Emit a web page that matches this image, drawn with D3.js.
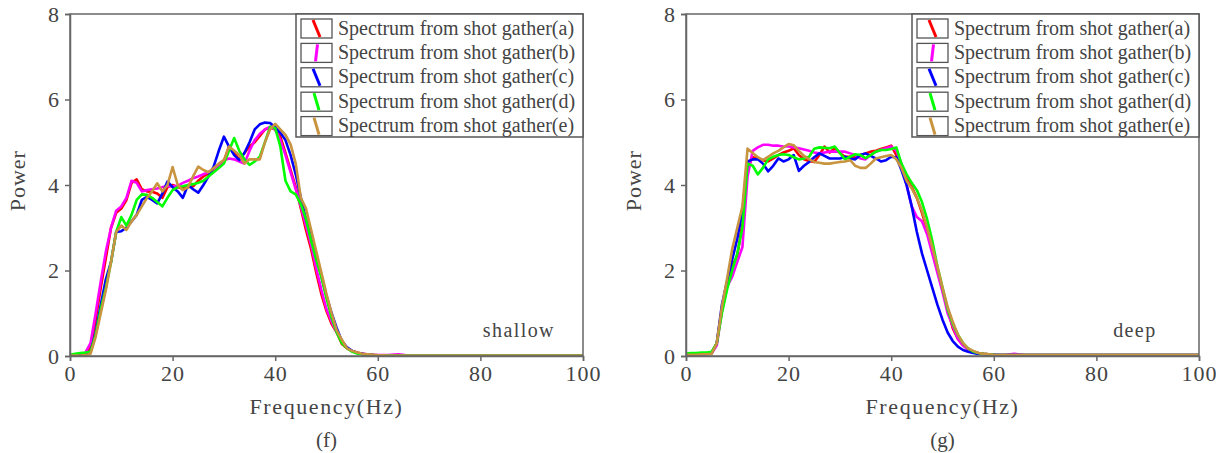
<!DOCTYPE html>
<html>
<head>
<meta charset="utf-8">
<script src="https://cdn.jsdelivr.net/npm/d3@7"></script>
<style>
  body { margin: 0; background: #fff; }
  svg text { font-family: "Liberation Serif", "DejaVu Serif", serif; fill: #444; }
</style>
</head>
<body>
<svg id="chart" width="1216" height="453"></svg>
<script>
// frequency axis (Hz), shared by every curve
const freqs = [0,1,2,3,4,5,6,7,8,9,10,11,12,13,14,15,16,17,18,19,20,21,22,23,24,25,26,27,28,29,30,
  31,32,33,34,35,36,37,38,39,40,41,42,43,44,45,46,47,48,49,50,51,52,53,54,55,56,57,58,59,60,
  62,64,66,70,80,90,100];

const seriesNames = ["Spectrum from shot gather(a)", "Spectrum from shot gather(b)", "Spectrum from shot gather(c)",
  "Spectrum from shot gather(d)", "Spectrum from shot gather(e)"];
const seriesColors = ["#ff0000", "#ff00ff", "#0000ff", "#00ff00", "#c8943f"];

// (f) shallow
const shallowA = [0.02,0.02,0.03,0.06,0.2,0.85,1.6,2.3,3.0,3.35,3.45,3.65,4.05,4.13,3.9,3.85,3.84,3.8,3.7,3.95,4.0,
  3.95,3.92,3.95,3.97,4.1,4.2,4.27,4.35,4.45,4.55,4.9,4.75,4.6,4.75,4.9,5.0,5.15,5.3,5.35,5.3,
  5.13,4.75,4.35,3.95,3.45,2.95,2.5,1.95,1.45,1.05,0.75,0.55,0.28,0.18,0.12,0.08,0.05,0.03,0.02,0.01,
  0.01,0.01,0.01,0.01,0.01,0.01,0.01];
const shallowB = [0.02,0.02,0.03,0.08,0.3,1.0,1.75,2.45,3.0,3.4,3.5,3.7,4.1,4.05,3.85,3.88,3.9,3.92,3.95,3.97,3.97,
  3.98,4.05,4.1,4.16,4.2,4.25,4.3,4.38,4.45,4.58,4.62,4.6,4.55,4.5,4.8,5.05,5.2,5.3,5.36,5.3,
  5.05,4.7,4.3,3.9,3.5,3.05,2.6,2.05,1.55,1.1,0.8,0.55,0.35,0.2,0.11,0.07,0.05,0.04,0.03,0.02,
  0.02,0.04,0.01,0.01,0.01,0.01,0.01];
const shallowC = [0.02,0.02,0.03,0.05,0.1,0.55,1.2,1.8,2.2,2.9,2.92,3.0,3.15,3.3,3.65,3.72,3.65,3.57,3.8,4.08,3.95,
  3.85,3.7,4.0,3.9,3.82,4.0,4.2,4.43,4.8,5.13,4.9,4.7,4.58,4.75,5.0,5.3,5.42,5.46,5.45,5.35,
  5.22,5.05,4.7,4.25,3.7,3.2,2.8,2.35,1.86,1.4,1.0,0.65,0.35,0.2,0.12,0.07,0.05,0.03,0.02,0.01,
  0.01,0.01,0.01,0.01,0.01,0.01,0.01];
const shallowD = [0.03,0.05,0.07,0.08,0.1,0.5,1.1,1.6,2.2,2.9,3.25,3.05,3.3,3.65,3.78,3.77,3.7,3.6,3.5,3.7,3.88,
  3.95,3.97,4.0,4.02,4.05,4.1,4.2,4.3,4.4,4.5,4.8,5.1,4.8,4.6,4.47,4.55,4.66,5.0,5.36,5.33,
  4.9,4.1,3.85,3.78,3.55,3.2,2.7,2.25,1.85,1.35,0.9,0.55,0.3,0.18,0.1,0.06,0.04,0.03,0.02,0.01,
  0.01,0.01,0.01,0.01,0.01,0.01,0.01];
const shallowE = [0.01,0.01,0.01,0.02,0.05,0.45,1.0,1.55,2.2,2.9,3.05,2.95,3.15,3.3,3.5,3.7,3.85,4.04,3.85,4.0,4.42,
  4.0,3.88,3.95,4.2,4.43,4.35,4.3,4.4,4.5,4.58,4.9,4.8,4.7,4.5,4.6,4.6,4.6,5.0,5.3,5.43,
  5.3,5.17,4.95,4.5,3.7,3.45,2.95,2.45,1.95,1.45,1.0,0.6,0.38,0.18,0.12,0.08,0.05,0.04,0.03,0.02,
  0.01,0.01,0.01,0.01,0.01,0.01,0.01];

// (g) deep
const deepA = [0.04,0.04,0.04,0.05,0.05,0.07,0.3,1.1,1.7,2.1,2.35,3.1,4.4,4.65,4.62,4.58,4.55,4.62,4.7,4.76,4.8,
  4.86,4.7,4.6,4.56,4.54,4.7,4.9,4.76,4.86,4.75,4.66,4.66,4.66,4.7,4.74,4.78,4.8,4.84,4.88,4.92,
  4.7,4.4,4.15,3.95,3.7,3.35,2.95,2.5,2.0,1.55,1.1,0.65,0.4,0.25,0.15,0.1,0.07,0.05,0.04,0.03,
  0.02,0.02,0.02,0.02,0.02,0.02,0.02];
const deepB = [0.04,0.04,0.04,0.05,0.05,0.06,0.25,1.05,1.62,1.85,2.2,2.55,4.2,4.8,4.88,4.94,4.94,4.92,4.92,4.9,4.9,
  4.88,4.86,4.83,4.8,4.76,4.74,4.76,4.78,4.78,4.78,4.78,4.74,4.7,4.62,4.6,4.7,4.78,4.82,4.86,4.9,
  4.8,4.5,4.0,3.5,3.25,3.15,2.85,2.4,1.95,1.5,1.0,0.7,0.4,0.25,0.15,0.1,0.07,0.05,0.04,0.03,
  0.02,0.05,0.02,0.02,0.02,0.02,0.02];
const deepC = [0.04,0.04,0.04,0.05,0.05,0.07,0.3,1.2,1.75,2.25,2.75,3.4,4.55,4.6,4.6,4.5,4.32,4.45,4.62,4.55,4.6,
  4.7,4.33,4.45,4.54,4.65,4.74,4.68,4.62,4.62,4.62,4.66,4.62,4.6,4.7,4.74,4.68,4.62,4.55,4.58,4.66,
  4.65,4.35,4.0,3.5,2.9,2.4,2.0,1.6,1.2,0.85,0.55,0.35,0.22,0.14,0.1,0.07,0.05,0.04,0.03,0.03,
  0.02,0.02,0.02,0.02,0.02,0.02,0.02];
const deepD = [0.06,0.07,0.07,0.08,0.08,0.1,0.3,1.0,1.55,2.0,2.4,3.0,4.5,4.45,4.25,4.4,4.6,4.66,4.7,4.72,4.7,
  4.65,4.6,4.62,4.66,4.85,4.88,4.87,4.86,4.9,4.75,4.6,4.66,4.72,4.7,4.63,4.7,4.78,4.82,4.82,4.84,
  4.88,4.5,4.25,4.05,3.88,3.6,3.2,2.7,2.1,1.6,1.1,0.75,0.5,0.3,0.18,0.1,0.07,0.05,0.04,0.03,
  0.02,0.02,0.02,0.02,0.02,0.02,0.02];
const deepE = [0.03,0.03,0.03,0.04,0.04,0.05,0.3,1.15,1.8,2.5,3.0,3.5,4.85,4.75,4.65,4.58,4.66,4.74,4.8,4.88,4.96,
  4.93,4.8,4.68,4.6,4.54,4.52,4.5,4.5,4.52,4.54,4.55,4.58,4.45,4.4,4.4,4.5,4.62,4.65,4.68,4.7,
  4.6,4.4,4.1,3.92,3.7,3.4,3.0,2.55,2.1,1.6,1.15,0.8,0.5,0.3,0.18,0.12,0.07,0.05,0.04,0.03,
  0.02,0.02,0.02,0.02,0.02,0.02,0.02];

const xTicks = [0, 20, 40, 60, 80, 100];
const yTicks = [0, 2, 4, 6, 8];
// slant of the little line in each legend swatch (dx from top to bottom)
const swatchSlant = [7, -2, 7, 5, 5];

const panels = [
  {left: 70, series: [shallowA, shallowB, shallowC, shallowD, shallowE], tag: "shallow", caption: "(f)"},
  {left: 686, series: [deepA, deepB, deepC, deepD, deepE], tag: "deep", caption: "(g)"}
];

const svg = d3.select("#chart");
const W = 513, H = 342, plotTop = 14;

panels.forEach(p => {
  const g = svg.append("g").attr("transform", `translate(${p.left},${plotTop})`);
  const x = d3.scaleLinear().domain([0, 100]).range([0, W]);
  const y = d3.scaleLinear().domain([0, 8]).range([H, 0]);

  // curves
  const line = d3.line().x(d => x(d[0])).y(d => y(d[1]));
  p.series.forEach((vals, i) => {
    g.append("path")
      .datum(freqs.map((f, k) => [f, vals[k]]))
      .attr("fill", "none")
      .attr("stroke", seriesColors[i])
      .attr("stroke-width", 2.6)
      .attr("stroke-linejoin", "round")
      .attr("d", line);
  });

  // frame
  g.append("rect").attr("width", W).attr("height", H)
    .attr("fill", "none").attr("stroke", "#666").attr("stroke-width", 1.5);

  const xa = g.append("g").attr("transform", `translate(0,${H})`)
    .call(d3.axisBottom(x).tickValues(xTicks).tickSize(5).tickPadding(4));
  const ya = g.append("g")
    .call(d3.axisLeft(y).tickValues(yTicks).tickSize(5).tickPadding(5));
  [xa, ya].forEach(a => {
    a.select(".domain").attr("stroke", "#666").attr("stroke-width", 1.5);
    a.selectAll(".tick line").attr("stroke", "#666").attr("stroke-width", 1.5);
    a.selectAll(".tick text").style("font-size", "22px").style("letter-spacing", "1px").attr("fill", "#444")
      .style("font-family", "'Liberation Serif', serif");
  });

  g.append("text").attr("x", W / 2).attr("y", H + 58).attr("text-anchor", "middle")
    .style("font-size", "22px").style("letter-spacing", "1.6px").text("Frequency(Hz)");
  g.append("text").attr("x", W / 2).attr("y", H + 91).attr("text-anchor", "middle")
    .style("font-size", "21px").text(p.caption);
  g.append("text").attr("transform", `translate(-45,${y(4.1)}) rotate(-90)`).attr("text-anchor", "middle")
    .style("font-size", "22px").style("letter-spacing", "1px").text("Power");
  g.append("text").attr("x", x(87.5)).attr("y", y(0.45)).attr("text-anchor", "middle")
    .style("font-size", "20px").style("letter-spacing", "1.4px").text(p.tag);

  // legend
  const lg = g.append("g").attr("transform", `translate(${W - 287},0)`);
  lg.append("rect").attr("width", 287).attr("height", 123)
    .attr("fill", "#fff").attr("stroke", "#555").attr("stroke-width", 1.5);
  seriesNames.forEach((name, i) => {
    const row = lg.append("g").attr("transform", `translate(5,${5 + i * 24.4})`);
    row.append("rect").attr("width", 31).attr("height", 19)
      .attr("fill", "#fff").attr("stroke", "#555").attr("stroke-width", 1.3);
    const cx = 15.5 - swatchSlant[i] / 2;
    row.append("line").attr("x1", cx).attr("y1", 1).attr("x2", cx + swatchSlant[i]).attr("y2", 18)
      .attr("stroke", seriesColors[i]).attr("stroke-width", 3);
    row.append("text").attr("x", 37).attr("y", 15.5).style("font-size", "20px").text(name);
  });
});
</script>
</body>
</html>
